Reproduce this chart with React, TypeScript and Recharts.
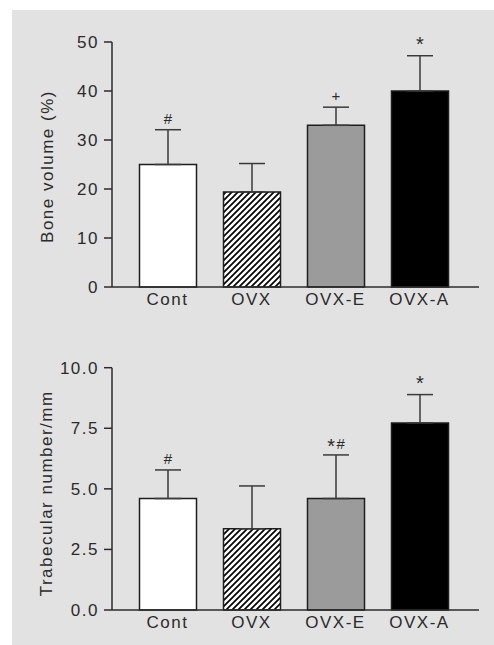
import React from "react";
import {
  ComposedChart,
  Bar,
  Cell,
  XAxis,
  YAxis,
  ErrorBar,
  LabelList,
  Label,
} from "recharts";

// groups
const categories = ["Cont", "OVX", "OVX-E", "OVX-A"];

// upper panel: bone volume (%)
const boneVolume = [25, 19.4, 33, 40];
const boneVolumeSd = [7.1, 5.8, 3.7, 7.2];
const boneVolumeMarks = ["#", "", "+", "*"];
const boneVolumeTicks = [0, 10, 20, 30, 40, 50];

// lower panel: trabecular number/mm
const trabNumber = [4.6, 3.35, 4.6, 7.72];
const trabNumberSd = [1.18, 1.77, 1.8, 1.17];
const trabNumberMarks = ["#", "", "*#", "*"];
const trabNumberTicks = [0, 2.5, 5, 7.5, 10];

const ink = "#2b2b2b";
const font = '"Liberation Sans", Arial, sans-serif';

const buildRows = (values: number[], sd: number[], marks: string[]) =>
  categories.map((name, i) => ({
    name,
    value: values[i],
    sd: sd[i],
    err: [0, sd[i]],
    mark: marks[i],
  }));

const boneRows = buildRows(boneVolume, boneVolumeSd, boneVolumeMarks);
const trabRows = buildRows(trabNumber, trabNumberSd, trabNumberMarks);

function renderMark(rows: any[]) {
  return (props: any) => {
    const { x, y, width, height, index } = props;
    const row = rows[index];
    if (!row || !row.mark) return null;
    const top = Number(y) - (row.sd * Number(height)) / row.value;
    const alone = row.mark.length === 1;
    // asterisk drawn a bit bigger; lowered when it sits next to another sign
    const parts = row.mark.split("").map((ch: string, k: number) => {
      if (ch === "*") {
        const dy = alone ? 1 : 4.5;
        return (
          <tspan key={k} fontSize={20} dy={dy}>
            {ch}
          </tspan>
        );
      }
      return (
        <tspan key={k} dy={k > 0 ? -4.5 : 0} dx={k > 0 ? 1.5 : 0}>
          {ch}
        </tspan>
      );
    });
    return (
      <text
        x={Number(x) + Number(width) / 2}
        y={top - 6}
        textAnchor="middle"
        fontSize={15}
        fill={ink}
        style={{ letterSpacing: 0 }}
      >
        {parts}
      </text>
    );
  };
}

function axisTitle(text: string, shift: number) {
  return (props: any) => {
    const vb = props.viewBox || {};
    const cx = vb.x + 35;
    const cy = vb.y + vb.height / 2 + shift;
    return (
      <text
        x={cx}
        y={cy}
        textAnchor="middle"
        dominantBaseline="central"
        transform={`rotate(-90, ${cx}, ${cy})`}
        fontSize={17}
        fill={ink}
      >
        {text}
      </text>
    );
  };
}

type PanelProps = {
  id: string;
  rows: any[];
  ticks: number[];
  height: number;
  top: number;
  bottom: number;
  title: string;
  titleShift: number;
  format?: (v: number) => string;
};

function Panel({ id, rows, ticks, height, top, bottom, title, titleShift, format }: PanelProps) {
  const fills = ["#ffffff", `url(#${id})`, "#9b9b9b", "#000000"];
  return (
    <ComposedChart
      width={482}
      height={height}
      data={rows}
      margin={{ top, right: 15, bottom, left: 0 }}
    >
      <defs>
        <pattern id={id} patternUnits="userSpaceOnUse" width="6" height="6">
          <rect width="6" height="6" fill="#fff" />
          <path
            d="M-1,1 l2,-2 M0,6 l6,-6 M5,7 l2,-2"
            stroke="#000"
            strokeWidth={1.7}
          />
        </pattern>
      </defs>
      <XAxis
        dataKey="name"
        height={30}
        padding={{ left: 13.5, right: 17.5 }}
        axisLine={{ stroke: ink, strokeWidth: 1.5 }}
        tickLine={false}
        tickSize={0}
        tickMargin={6}
        tick={{ fill: ink, fontSize: 17 }}
      />
      <YAxis
        width={100}
        domain={[ticks[0], ticks[ticks.length - 1]]}
        ticks={ticks}
        tickFormatter={format}
        axisLine={{ stroke: ink, strokeWidth: 1.5 }}
        tickLine={{ stroke: ink, strokeWidth: 1.5 }}
        tickSize={8}
        tickMargin={5}
        tick={{ fill: ink, fontSize: 17 }}
      >
        <Label content={axisTitle(title, titleShift)} />
      </YAxis>
      <Bar
        dataKey="value"
        barSize={57}
        stroke="#1e1e1e"
        strokeWidth={1.5}
        isAnimationActive={false}
      >
        {rows.map((r, i) => (
          <Cell key={r.name} fill={fills[i]} />
        ))}
        <ErrorBar
          dataKey="err"
          width={13}
          stroke="#3a3a3a"
          strokeWidth={1.5}
          isAnimationActive={false}
        />
        <LabelList dataKey="mark" content={renderMark(rows)} />
      </Bar>
    </ComposedChart>
  );
}

export default function App() {
  return (
    <div
      style={{
        position: "absolute",
        left: 0,
        top: 0,
        width: 494,
        height: 645,
        background: "#ffffff",
        fontFamily: font,
        letterSpacing: "1.5px",
      }}
    >
      <div
        style={{
          position: "absolute",
          left: 12,
          top: 10,
          width: 482,
          height: 635,
          background: "#e2e2e2",
        }}
      >
        <Panel
          id="hatchTop"
          rows={boneRows}
          ticks={boneVolumeTicks}
          height={310}
          top={32}
          bottom={3}
          title="Bone volume (%)"
          titleShift={2}
        />
        <Panel
          id="hatchBottom"
          rows={trabRows}
          ticks={trabNumberTicks}
          height={325}
          top={47.7}
          bottom={5}
          title="Trabecular number/mm"
          titleShift={4.5}
          format={(v) => v.toFixed(1)}
        />
      </div>
    </div>
  );
}
